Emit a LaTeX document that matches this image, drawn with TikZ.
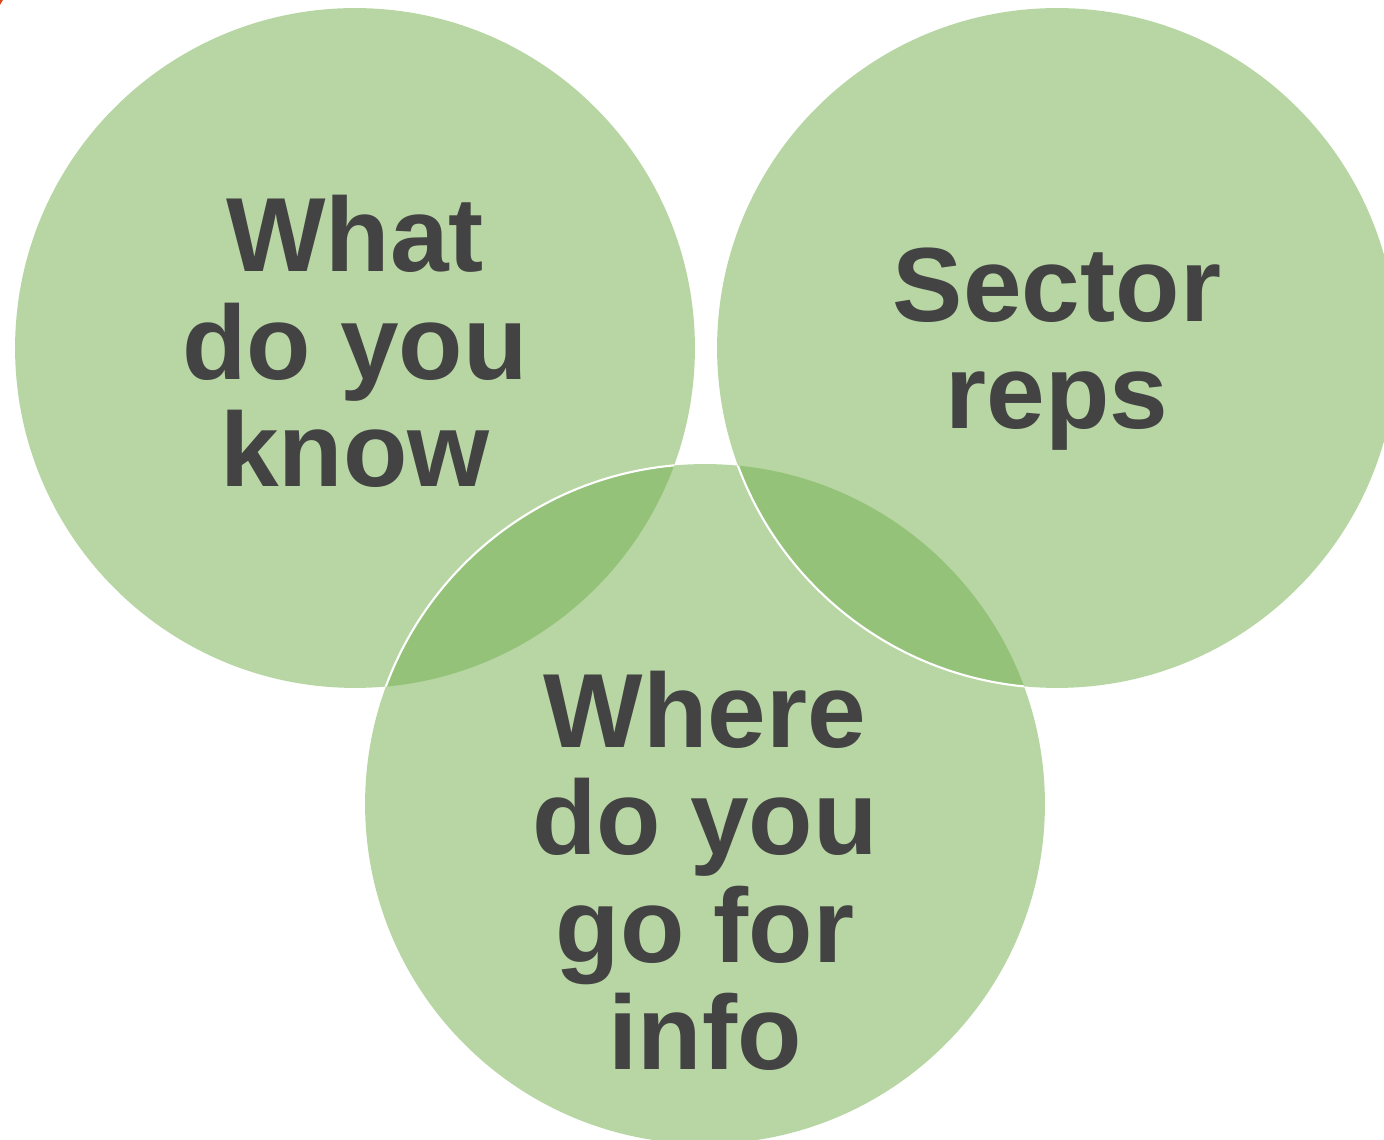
\documentclass[tikz,border=0pt]{standalone}
\usepackage{fontspec}
\setmainfont{Liberation Sans}
\usepackage{xcolor}
\definecolor{vennfill}{HTML}{B8D6A4}
\definecolor{lensfill}{HTML}{94C278}
\definecolor{venntextcol}{HTML}{434343}
\definecolor{cornermark}{HTML}{D8481A}
\tikzstyle{venn} = [circle, minimum size=13.6cm, inner sep=0pt, fill=vennfill]
\tikzstyle{venntext} = [text=venntextcol, align=center, font=\bfseries\fontsize{60}{61.2}\selectfont]
\tikzstyle{rim} = [draw=white, line width=1.2pt]

\begin{document}
\begin{tikzpicture}[x=0.02cm, y=0.02cm]

\useasboundingbox (0,0) rectangle (1384,1140);
\clip (0,0) rectangle (1384,1140);

\node (what) [venn] at (355,792) {};
\node (sector) [venn] at (1057,792) {};
\node (where) [venn] at (705,336) {};

% Overlaps
\begin{scope}
\clip (what.center) circle (340);
\fill [lensfill] (where.center) circle (340);
\draw [rim] (where.center) circle (340);
\end{scope}
\begin{scope}
\clip (where.center) circle (340);
\fill [lensfill] (sector.center) circle (340);
\draw [rim] (sector.center) circle (340);
\end{scope}

% Texts
\node (what-text) [venntext] at (355,798.5) {What\\do you\\know};
\node (sector-text) [venntext] at (1057,791) {Sector\\reps};
\node (where-text) [venntext] at (705,269) {Where\\do you\\go for\\info};

\fill [cornermark] (0,1140) -- (3,1140) -- (0,1135) -- cycle;

\end{tikzpicture}
\end{document}
